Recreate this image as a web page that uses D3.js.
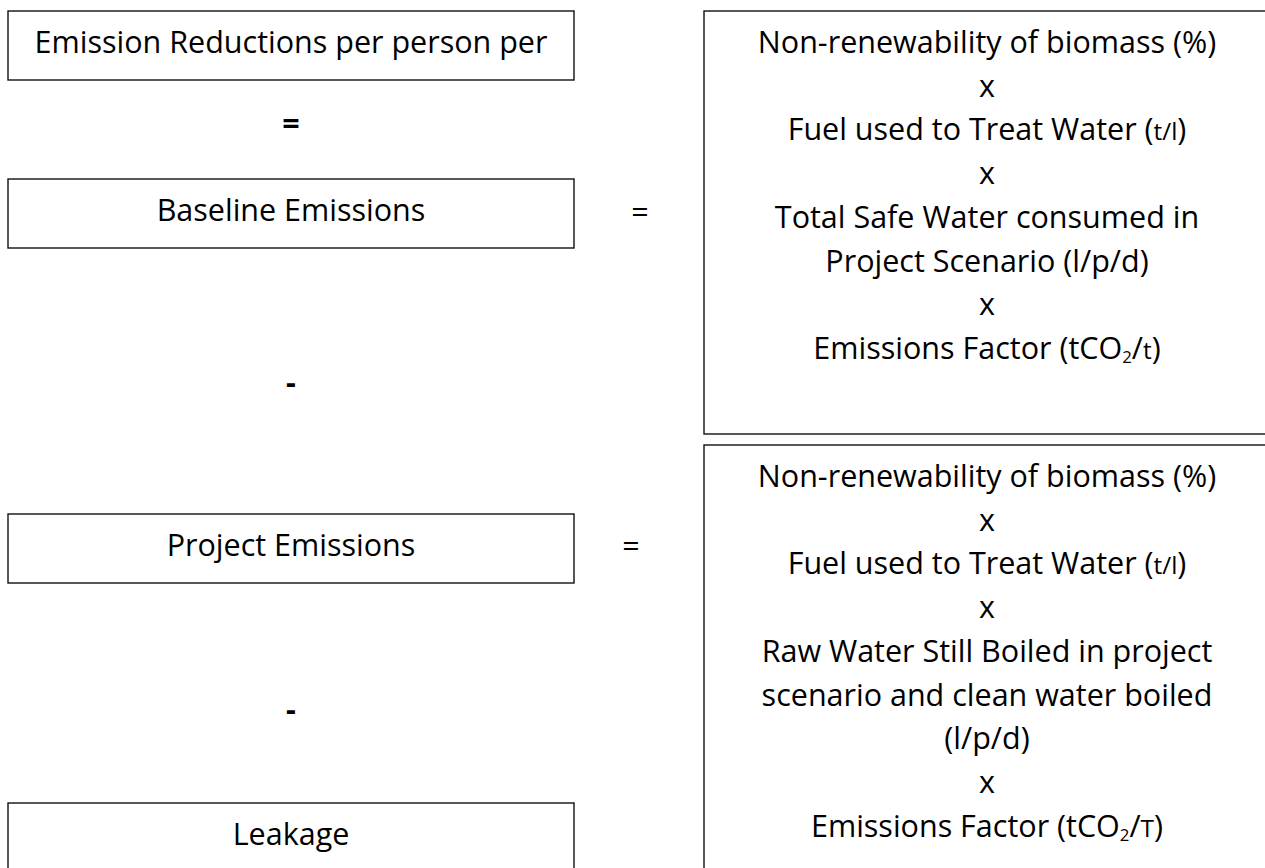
<!DOCTYPE html>
<meta charset="utf-8">
<script src="https://d3js.org/d3.v7.min.js"></script>
<style>
  body { margin: 0; background: #fff; }
  text { font-family: "Open Sans", Lato, sans-serif; fill: #000; }
</style>
<div id="diagram"></div>
<script>
// labels of the left column, top to bottom
var leftLabels = ["Emission Reductions per person per", "Baseline Emissions", "Project Emissions", "Leakage"];
// operators between the left boxes (bold) and between the columns
var leftOps = ["=", "-", "-"];
var rightOps = ["=", "="];
// formula lines: {..} = smaller text, _2 = subscript
var baselineLines = [
  "Non-renewability of biomass (%)",
  "x",
  "Fuel used to Treat Water ({t/l})",
  "x",
  "Total Safe Water consumed in",
  "Project Scenario (l/p/d)",
  "x",
  "Emissions Factor (tCO_2/{t})"
];
var projectLines = [
  "Non-renewability of biomass (%)",
  "x",
  "Fuel used to Treat Water ({t/l})",
  "x",
  "Raw Water Still Boiled in project",
  "scenario and clean water boiled",
  "(l/p/d)",
  "x",
  "Emissions Factor (tCO_2/{T})"
];

var width = 1265, height = 868, fs = 30.5;

var svg = d3.select("#diagram").append("svg")
    .attr("width", width)
    .attr("height", height);

// layout of the left column
var leftX = 8, leftW = 566, boxH = 69;
var leftTops = [11, 179, 514, 803];
var leftMid = leftX + leftW / 2;

// layout of the right column
var rightX = 704, rightW = 566;
var rightMid = rightX + rightW / 2;
var rightBoxes = [
  {top: 11, bottom: 434, lines: baselineLines},
  {top: 445, bottom: 880, lines: projectLines}
];

// line index -> baseline offset inside a box
var lineY = d3.scaleLinear().domain([0, 1]).range([42, 42 + 43.7]);

// left boxes
var left = svg.selectAll("g.left")
  .data(leftLabels)
  .enter().append("g")
    .attr("class", "left");

left.append("rect")
    .attr("x", leftX)
    .attr("y", function(d, i) { return leftTops[i]; })
    .attr("width", leftW)
    .attr("height", function(d, i) { return i == 3 ? 90 : boxH; })
    .attr("fill", "none")
    .attr("stroke", "#111")
    .attr("stroke-width", 1.4);

left.append("text")
    .attr("x", leftMid)
    .attr("y", function(d, i) { return leftTops[i] + lineY(0); })
    .attr("text-anchor", "middle")
    .style("font-size", fs + "px")
    .text(function(d) { return d; });

// operators between left boxes
var leftOpY = [134, 393, 720];
svg.selectAll("text.lop")
  .data(leftOps)
  .enter().append("text")
    .attr("class", "lop")
    .attr("x", leftMid)
    .attr("y", function(d, i) { return leftOpY[i]; })
    .attr("text-anchor", "middle")
    .style("font-size", fs + "px")
    .style("font-weight", "bold")
    .text(function(d) { return d; });

// operators between columns
var rightOpPos = [{x: 640, y: 223}, {x: 631, y: 557}];
svg.selectAll("text.rop")
  .data(rightOps)
  .enter().append("text")
    .attr("class", "rop")
    .attr("x", function(d, i) { return rightOpPos[i].x; })
    .attr("y", function(d, i) { return rightOpPos[i].y; })
    .attr("text-anchor", "middle")
    .style("font-size", fs + "px")
    .text(function(d) { return d; });

// split a line into normal / small / subscript pieces
function pieces(s) {
  var out = [], re = /\{([^}]*)\}|_(\d)|([^{_]+)/g, m;
  while ((m = re.exec(s)) !== null) {
    if (m[1] !== undefined) out.push({t: m[1], kind: "small"});
    else if (m[2] !== undefined) out.push({t: m[2], kind: "sub"});
    else out.push({t: m[3], kind: "normal"});
  }
  return out;
}

var right = svg.selectAll("g.right")
  .data(rightBoxes)
  .enter().append("g")
    .attr("class", "right");

right.append("rect")
    .attr("x", rightX)
    .attr("y", function(d) { return d.top; })
    .attr("width", rightW)
    .attr("height", function(d) { return d.bottom - d.top; })
    .attr("fill", "none")
    .attr("stroke", "#111")
    .attr("stroke-width", 1.4);

right.each(function(box) {
  var t = d3.select(this).selectAll("text")
    .data(box.lines)
    .enter().append("text")
      .attr("x", rightMid)
      .attr("y", function(d, i) { return box.top + lineY(i); })
      .attr("text-anchor", "middle")
      .style("font-size", fs + "px");

  t.each(function(line) {
    var el = d3.select(this);
    var prevSub = false;
    pieces(line).forEach(function(p) {
      var sp = el.append("tspan").text(p.t);
      if (p.kind == "small") {
        sp.style("font-size", (fs * 0.8) + "px");
      } else if (p.kind == "sub") {
        sp.style("font-size", (fs * 0.55) + "px").attr("dy", 4);
      }
      if (prevSub && p.kind != "sub") sp.attr("dy", -4);
      prevSub = p.kind == "sub";
    });
  });
});
</script>
